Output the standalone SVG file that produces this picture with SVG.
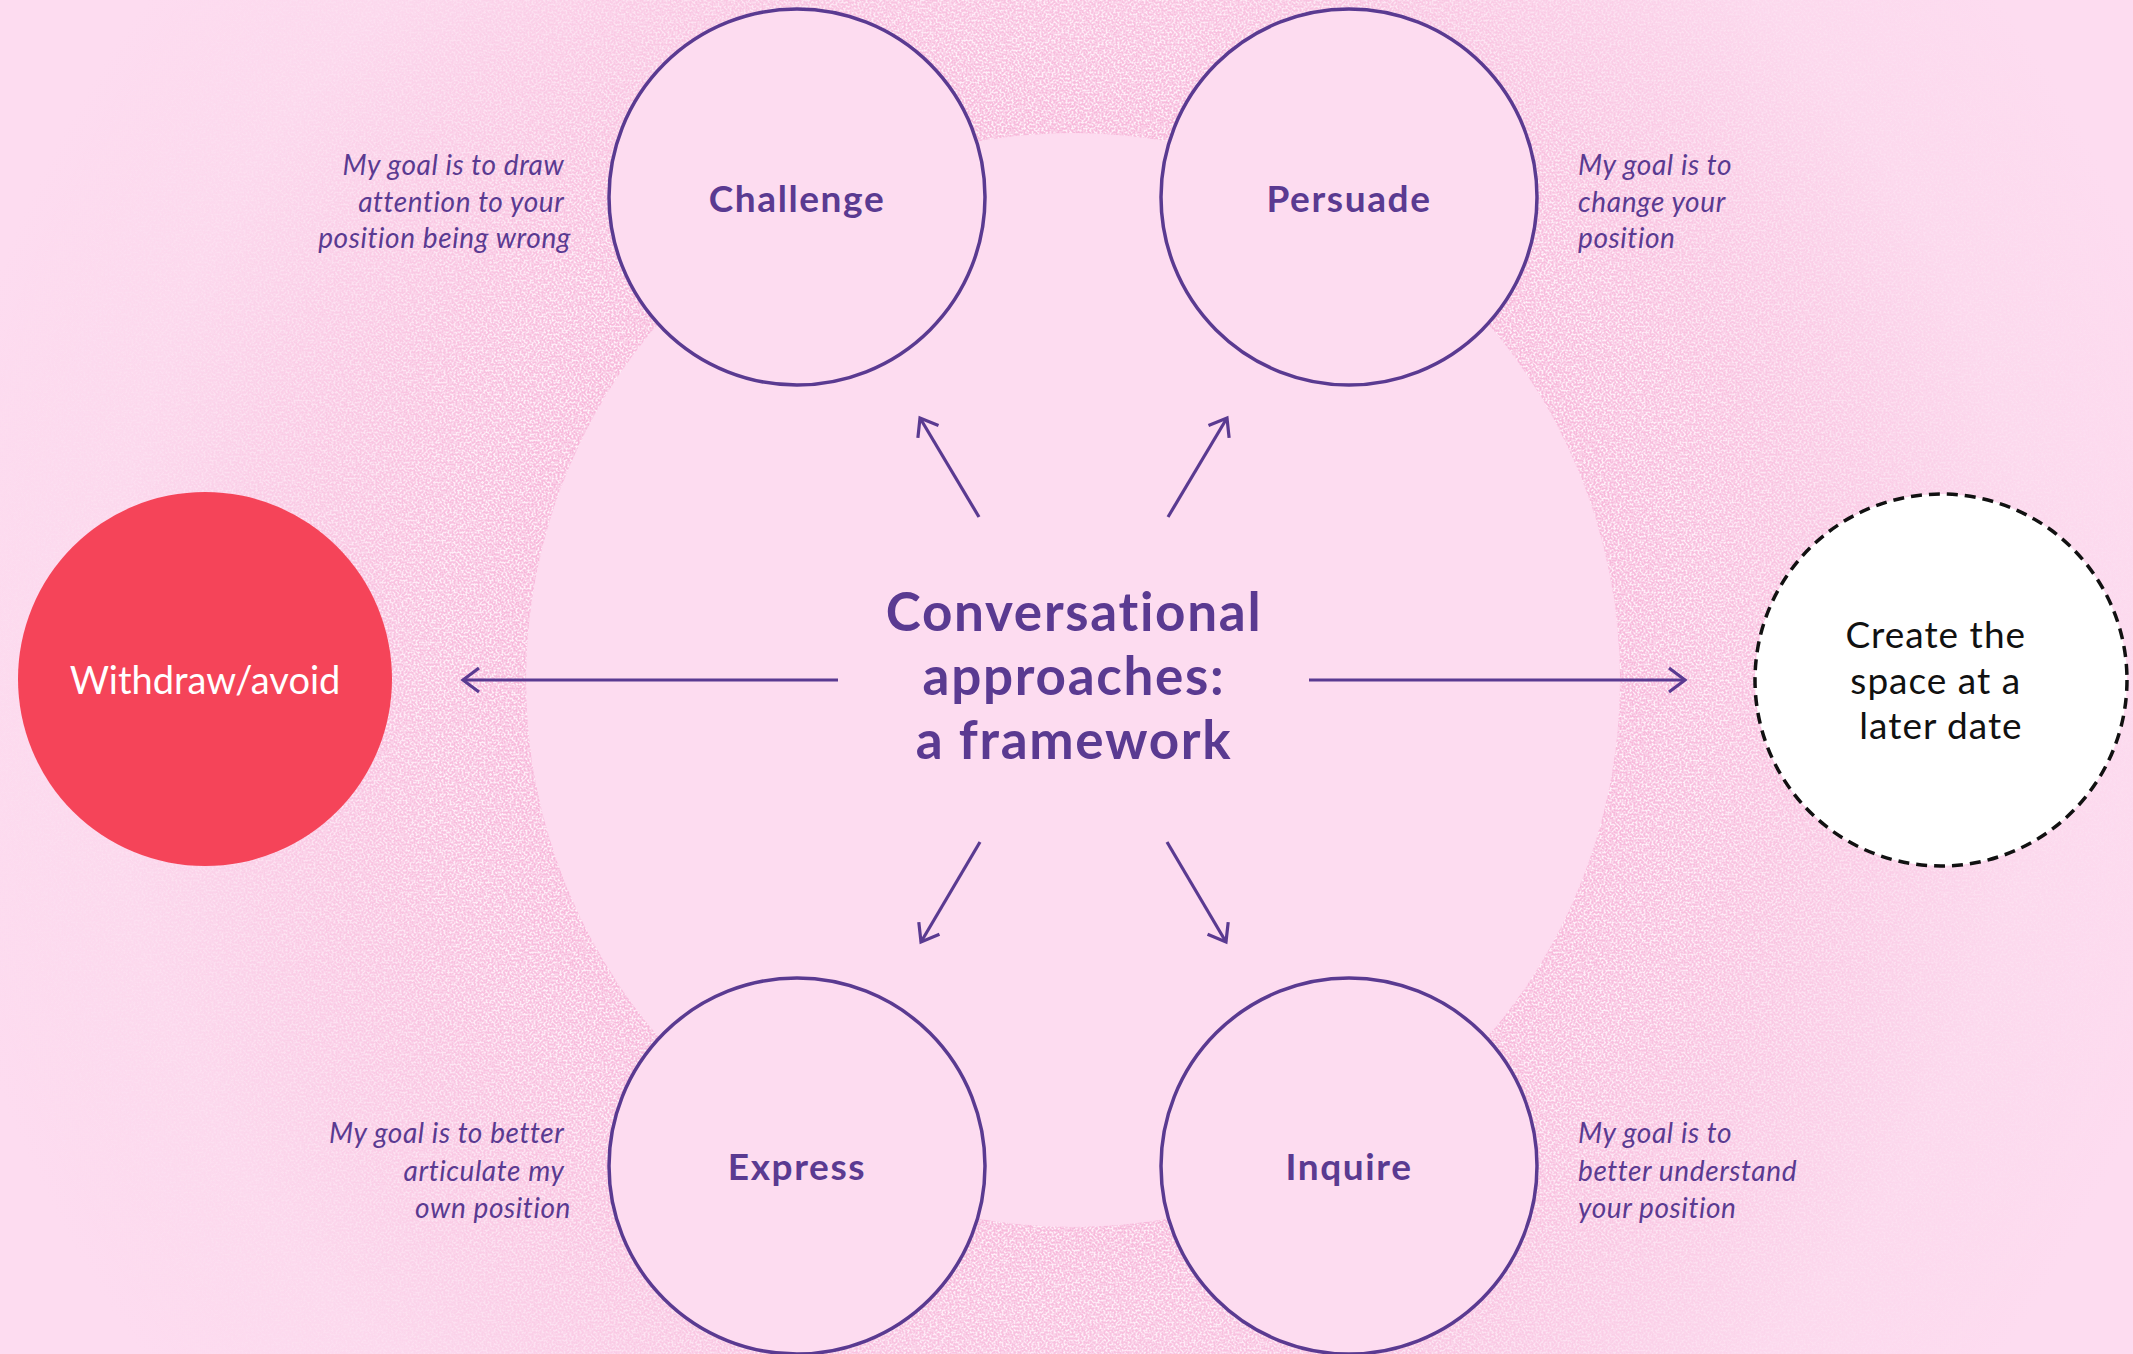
<svg xmlns="http://www.w3.org/2000/svg" width="2133" height="1354" viewBox="0 0 2133 1354">
  <defs>
    <style>
      .node { fill: #FDDCF0; stroke: #5A3A91; stroke-width: 3.5; }
      .lbl { font-family: Lato, "Liberation Sans", sans-serif; font-weight: 700; font-size: 37px; fill: #5A3A91; text-anchor: middle; letter-spacing: 1.6px; }
      .desc { font-family: Lato, "Liberation Sans", sans-serif; font-style: italic; font-size: 28px; fill: #5A3A91; letter-spacing: 0.6px; }
      .title { font-family: Lato, "Liberation Sans", sans-serif; font-weight: 700; font-size: 53px; fill: #5A3A91; text-anchor: middle; letter-spacing: 1.7px; }
      .conn { stroke: #5A3A91; stroke-width: 3.2; fill: none; marker-end: url(#arrow); }
    </style>
    <marker id="arrow" markerUnits="userSpaceOnUse" viewBox="-24 -16 30 32" markerWidth="30" markerHeight="32" refX="0" refY="0" orient="auto">
      <path d="M-16,-12 L0,0 L-16,12" fill="none" stroke="#5A3A91" stroke-width="3.2"/>
    </marker>
    <radialGradient id="ringGrad" gradientUnits="userSpaceOnUse" cx="1073" cy="680" r="1150">
      <stop offset="0" stop-color="#FDDCF0"/>
      <stop offset="0.47" stop-color="#F7B9DB"/>
      <stop offset="0.62" stop-color="#F9C4E1"/>
      <stop offset="0.84" stop-color="#FCD8ED"/>
      <stop offset="1" stop-color="#FDDCF0"/>
    </radialGradient>
    <radialGradient id="maskGrad" gradientUnits="userSpaceOnUse" cx="1073" cy="680" r="1150">
      <stop offset="0" stop-color="#fff"/>
      <stop offset="0.55" stop-color="#fff"/>
      <stop offset="0.82" stop-color="#fff" stop-opacity="0.35"/>
      <stop offset="1" stop-color="#fff" stop-opacity="0"/>
    </radialGradient>
    <mask id="ringMask">
      <rect x="0" y="0" width="2133" height="1354" fill="url(#maskGrad)"/>
    </mask>
    <filter id="grain" x="0" y="0" width="2133" height="1354" filterUnits="userSpaceOnUse">
      <feTurbulence type="fractalNoise" baseFrequency="0.5" numOctaves="2" seed="7" result="n"/>
      <feColorMatrix in="n" type="matrix" values="0 0 0 0 0.99  0 0 0 0 0.86  0 0 0 0 0.94  4 0 0 0 -1.65"/>
    </filter>
  </defs>

  <g id="background">
    <rect x="0" y="0" width="2133" height="1354" fill="url(#ringGrad)"/>
    <rect x="0" y="0" width="2133" height="1354" filter="url(#grain)" mask="url(#ringMask)"/>
    <circle cx="1073" cy="680" r="547" fill="#FDDCF0"/>
  </g>

  <g id="connectors">
    <line class="conn" x1="838" y1="680" x2="463" y2="680"/>
    <line class="conn" x1="1309" y1="680" x2="1685" y2="680"/>
    <line class="conn" x1="979" y1="517" x2="920" y2="418"/>
    <line class="conn" x1="1168" y1="517" x2="1227" y2="418"/>
    <line class="conn" x1="980" y1="842" x2="921" y2="942"/>
    <line class="conn" x1="1167" y1="842" x2="1226" y2="942"/>
  </g>

  <g id="title">
    <text class="title" x="1074" y="631">Conversational</text>
    <text class="title" x="1074" y="695">approaches:</text>
    <text class="title" x="1074" y="759">a framework</text>
  </g>

  <g id="challenge">
    <circle class="node" cx="797" cy="197" r="188"/>
    <text class="lbl" x="797" y="212">Challenge</text>
    <text class="desc" text-anchor="end">
      <tspan x="571" y="175">My goal is to draw</tspan>
      <tspan x="571" y="212">attention to your</tspan>
      <tspan x="571" y="248">position being wrong</tspan>
    </text>
  </g>

  <g id="persuade">
    <circle class="node" cx="1349" cy="197" r="188"/>
    <text class="lbl" x="1349" y="212">Persuade</text>
    <text class="desc">
      <tspan x="1578" y="175">My goal is to</tspan>
      <tspan x="1578" y="212">change your</tspan>
      <tspan x="1578" y="248">position</tspan>
    </text>
  </g>

  <g id="express">
    <circle class="node" cx="797" cy="1166" r="188"/>
    <text class="lbl" x="797" y="1180">Express</text>
    <text class="desc" text-anchor="end">
      <tspan x="571" y="1143">My goal is to better</tspan>
      <tspan x="571" y="1181">articulate my</tspan>
      <tspan x="571" y="1218">own position</tspan>
    </text>
  </g>

  <g id="inquire">
    <circle class="node" cx="1349" cy="1166" r="188"/>
    <text class="lbl" x="1349" y="1180">Inquire</text>
    <text class="desc">
      <tspan x="1578" y="1143">My goal is to</tspan>
      <tspan x="1578" y="1181">better understand</tspan>
      <tspan x="1578" y="1218">your position</tspan>
    </text>
  </g>

  <g id="withdraw">
    <circle cx="205" cy="679" r="187" fill="#F54459"/>
    <text x="205" y="694" font-family="Lato, 'Liberation Sans', sans-serif" font-size="38" fill="#FFFFFF" text-anchor="middle">Withdraw/avoid</text>
  </g>

  <g id="later">
    <circle cx="1941" cy="680" r="186" fill="#FFFFFF" stroke="#111111" stroke-width="3.5" stroke-dasharray="11 7"/>
    <text font-family="Lato, 'Liberation Sans', sans-serif" font-size="37" fill="#111111" text-anchor="middle" letter-spacing="1">
      <tspan x="1941" y="648">Create the</tspan>
      <tspan x="1941" y="694">space at a</tspan>
      <tspan x="1941" y="739">later date</tspan>
    </text>
  </g>
</svg>
